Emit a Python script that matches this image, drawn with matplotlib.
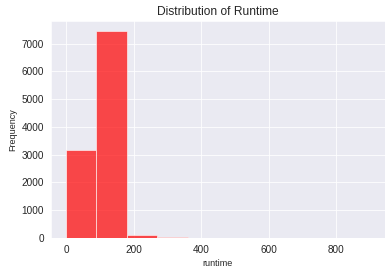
import matplotlib
matplotlib.use("Agg")
import matplotlib.pyplot as plt
import seaborn as sns

# histogram of runtime: bin edges (minutes) and counts
bin_edges = [0, 90, 180, 270, 360, 450, 540, 630, 720, 810, 900]
counts = [3180, 7460, 85, 12, 3, 1, 0, 0, 0, 1]

sns.set_style("darkgrid")
plt.rcParams['font.family'] = ['Liberation Sans', 'DejaVu Sans']

fig, ax = plt.subplots(figsize=(391 / 72, 274 / 72), dpi=72)
fig.subplots_adjust(left=0.13, right=0.985, top=0.9245, bottom=0.1325)

widths = [b - a for a, b in zip(bin_edges[:-1], bin_edges[1:])]
ax.bar(bin_edges[:-1], counts, width=widths, align='edge',
       color='red', alpha=0.7, edgecolor='white', linewidth=0.8)

ax.set_xlim(-45, 945)
ax.set_ylim(0, max(counts) * 1.05)
ax.set_title('Distribution of Runtime', fontsize=12)
ax.set_xlabel('runtime', fontsize=9)
ax.set_ylabel('Frequency', fontsize=9)
ax.tick_params(labelsize=10)

fig.savefig('out.png', dpi=72)
